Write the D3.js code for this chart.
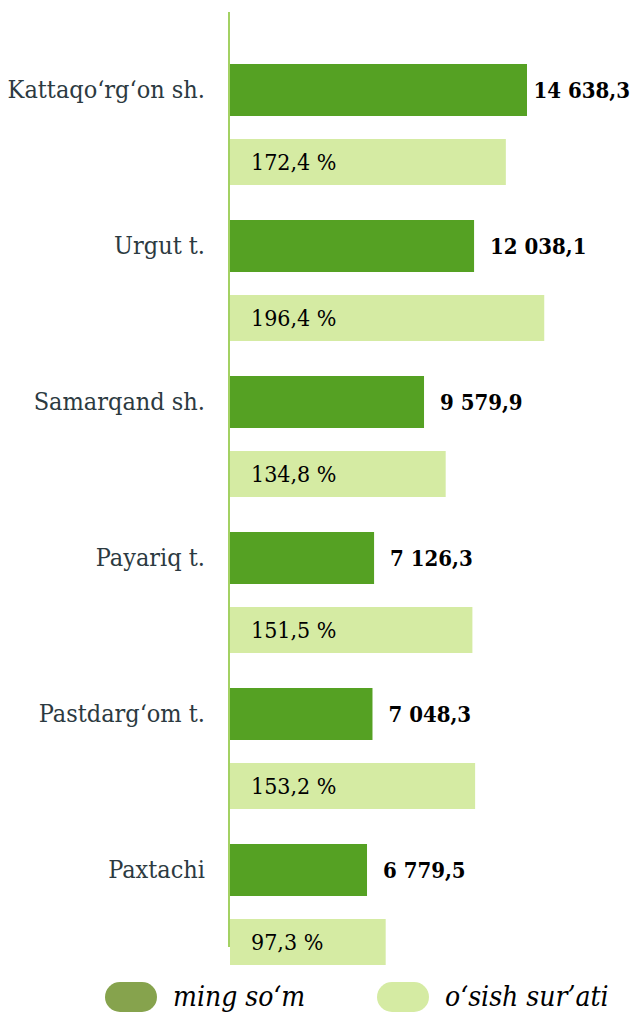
<!DOCTYPE html>
<html>
<head>
<meta charset="utf-8">
<script src="https://cdn.jsdelivr.net/npm/d3@7"></script>
<style>
  body { margin: 0; background: #ffffff; }
  #chart { width: 631px; height: 1014px; }
</style>
</head>
<body>
<div id="chart"></div>
<script>
// data
const districts = ["Kattaqo‘rg‘on sh.", "Urgut t.", "Samarqand sh.", "Payariq t.", "Pastdarg‘om t.", "Paxtachi"];
const amounts = [14638.3, 12038.1, 9579.9, 7126.3, 7048.3, 6779.5];
const growth = [172.4, 196.4, 134.8, 151.5, 153.2, 97.3];
const amountLabels = ["14 638,3", "12 038,1", "9 579,9", "7 126,3", "7 048,3", "6 779,5"];
const growthLabels = ["172,4 %", "196,4 %", "134,8 %", "151,5 %", "153,2 %", "97,3 %"];
const legendNames = ["ming so‘m", "o‘sish sur’ati"];

const width = 631;
const height = 1014;
const axisX = 229;
const serif = "'DejaVu Serif Condensed', 'DejaVu Serif', serif";

const svg = d3.select("#chart")
    .append("svg")
    .attr("width", width)
    .attr("height", height)
    .style("font-family", serif)
    .style("font-stretch", "condensed");

/*
SCALES
*/
const yScale = d3.scaleBand()
    .domain(districts)
    .range([64, 64 + 156 * districts.length]);

const xScale = d3.scaleLinear()
    .domain([0, d3.max(amounts)])
    .range([axisX, 527]);

const pScale = d3.scaleLinear()
    .domain([0, 200])
    .range([axisX + 1, axisX + 1 + 320]);

const rows = districts.map(function(d, i) {
    return {name: d, amount: amounts[i], growth: growth[i], aLabel: amountLabels[i], gLabel: growthLabels[i]};
});

/*
BARS
*/
svg.selectAll(".bar-amount")
    .data(rows)
    .enter()
    .append("rect")
    .attr("class", "bar-amount")
    .attr("x", xScale(0))
    .attr("y", function(d) { return yScale(d.name); })
    .attr("width", function(d) { return xScale(d.amount) - xScale(0); })
    .attr("height", 52)
    .attr("fill", "#55a123");

svg.selectAll(".bar-growth")
    .data(rows)
    .enter()
    .append("rect")
    .attr("class", "bar-growth")
    .attr("x", pScale(0))
    .attr("y", function(d) { return yScale(d.name) + 75; })
    .attr("width", function(d) { return pScale(d.growth) - pScale(0); })
    .attr("height", 46)
    .attr("fill", "#d5eba3");

/*
AXIS LINE
*/
svg.append("line")
    .attr("x1", axisX).attr("x2", axisX)
    .attr("y1", 12).attr("y2", 947)
    .attr("stroke", "#a3d163")
    .attr("stroke-width", 2);

/*
LABELS
*/
svg.selectAll(".cat")
    .data(rows)
    .enter()
    .append("text")
    .attr("class", "cat")
    .attr("x", 205)
    .attr("y", function(d) { return yScale(d.name) + 34; })
    .attr("text-anchor", "end")
    .attr("font-size", 25)
    .attr("fill", "#2c3a41")
    .text(function(d) { return d.name; })
    .each(function() {
        // keep the label inside the page
        const w = this.getComputedTextLength();
        if (w > 198) d3.select(this).attr("textLength", 198).attr("lengthAdjust", "spacingAndGlyphs");
    });

svg.selectAll(".val")
    .data(rows)
    .enter()
    .append("text")
    .attr("class", "val")
    .attr("x", function(d) { return xScale(d.amount) + 16; })
    .attr("y", function(d) { return yScale(d.name) + 34; })
    .attr("font-size", 22)
    .attr("font-weight", "bold")
    .attr("fill", "#000")
    .text(function(d) { return d.aLabel; })
    .each(function() {
        // keep the label inside the page
        const w = this.getComputedTextLength();
        const x = +d3.select(this).attr("x");
        if (x + w > width - 1) d3.select(this).attr("x", width - 1 - w);
    });

svg.selectAll(".pct")
    .data(rows)
    .enter()
    .append("text")
    .attr("class", "pct")
    .attr("x", 251)
    .attr("y", function(d) { return yScale(d.name) + 75 + 31; })
    .attr("font-size", 23)
    .attr("fill", "#000")
    .text(function(d) { return d.gLabel; });

/*
LEGEND
*/
const legend = svg.selectAll(".legend")
    .data(legendNames)
    .enter()
    .append("g")
    .attr("class", "legend")
    .attr("transform", function(d, i) { return `translate(${i === 0 ? 105 : 377},982)`; });

legend.append("rect")
    .attr("width", 52)
    .attr("height", 30)
    .attr("rx", 15)
    .attr("fill", function(d, i) { return i === 0 ? "#86a34d" : "#d5eba3"; });

legend.append("text")
    .attr("x", 68)
    .attr("y", 24)
    .attr("font-size", 28)
    .attr("font-style", "italic")
    .attr("fill", "#000")
    .text(function(d) { return d; })
    .each(function() {
        const w = this.getComputedTextLength();
        if (w > 175) d3.select(this).attr("textLength", 175).attr("lengthAdjust", "spacingAndGlyphs");
    });
</script>
</body>
</html>
